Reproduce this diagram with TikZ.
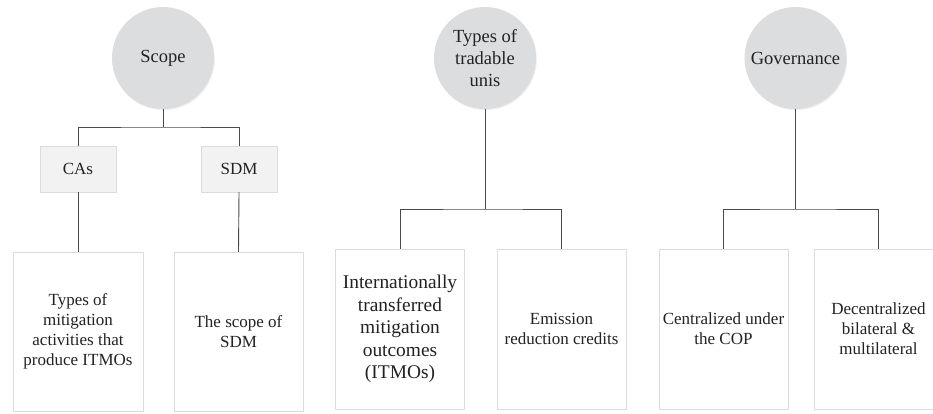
\documentclass[tikz,border=0pt]{standalone}
\usepackage{fontspec}
\setmainfont{LiberationSerif}[Extension=.ttf,UprightFont=*-Regular,BoldFont=*-Bold,ItalicFont=*-Italic,BoldItalicFont=*-BoldItalic]
\usetikzlibrary{shadows}
\definecolor{circfill}{HTML}{DCDDDF}
\definecolor{smallfill}{HTML}{F2F2F3}
\definecolor{boxline}{HTML}{DCDCDC}
\definecolor{conn}{HTML}{4A4A4A}
\definecolor{txt}{HTML}{222222}
\begin{document}
\begin{tikzpicture}[x=1pt,y=-1pt,
  circnode/.style={circle, fill=circfill, minimum size=102pt, inner sep=0pt, align=center,
    text=txt, font=\fontsize{18.5}{22}\selectfont,
    drop shadow={opacity=0.12, shadow xshift=0.8pt, shadow yshift=-1.2pt}},
  smallbox/.style={rectangle, draw=boxline, fill=smallfill, minimum width=76pt, minimum height=46pt,
    inner sep=0pt, text=txt, font=\fontsize{17}{20}\selectfont,
    drop shadow={opacity=0.1, shadow xshift=0.8pt, shadow yshift=-1.2pt}},
  bigbox/.style={rectangle, draw=boxline, fill=white, minimum width=129pt, minimum height=159pt,
    inner sep=0pt, align=center, text=txt, font=\fontsize{17}{20}\selectfont,
    drop shadow={opacity=0.1, shadow xshift=0.8pt, shadow yshift=-1.2pt}},
  connector/.style={draw=conn, line width=0.9pt}
]
\useasboundingbox (0,0) rectangle (933,413);
% top circles
\node[circnode] (c1) at (163,58) {Scope};
\node[circnode] (c2) at (485,58) {Types of\\tradable\\unis};
\node[circnode] (c3) at (795.5,58) {Governance};
% scope branch
\node[smallbox] (cas) at (78,169) {CAs};
\node[smallbox] (sdm) at (239,169) {SDM};
\node[bigbox, minimum width=130pt] (b1) at (78,331.5) {Types of\\mitigation\\activities that\\produce ITMOs};
\node[bigbox] (b2) at (238.5,331.5) {The scope of\\SDM};
% tradable units branch
\node[bigbox, minimum height=160pt, font=\fontsize{19.4}{22.5}\selectfont] (b3) at (400,329) {Internationally\\transferred\\mitigation\\outcomes\\(ITMOs)};
\node[bigbox, minimum height=160pt] (b4) at (561.5,329) {Emission\\reduction credits};
% governance branch
\node[bigbox, minimum height=160pt] (b5) at (723.5,329) {Centralized under\\the COP};
\node[bigbox, minimum height=160pt] (b6) at (878.5,329) {Decentralized\\bilateral \&\\multilateral};
% junctions
\coordinate (j1) at (163,127);
\coordinate (j2) at (485,209);
\coordinate (j3) at (795.5,209);
% connectors
\draw[connector] (c1.south) -- (j1);
\draw[connector] (cas.north) |- (j1) -| (sdm.north);
\draw[connector] (cas.south) -- (b1.north);
\draw[connector] (sdm.south) -- (b2.north);
\draw[connector] (c2.south) -- (j2);
\draw[connector] (b3.north) |- (j2) -| (b4.north);
\draw[connector] (c3.south) -- (j3);
\draw[connector] (b5.north) |- (j3) -| (b6.north);
\end{tikzpicture}
\end{document}
